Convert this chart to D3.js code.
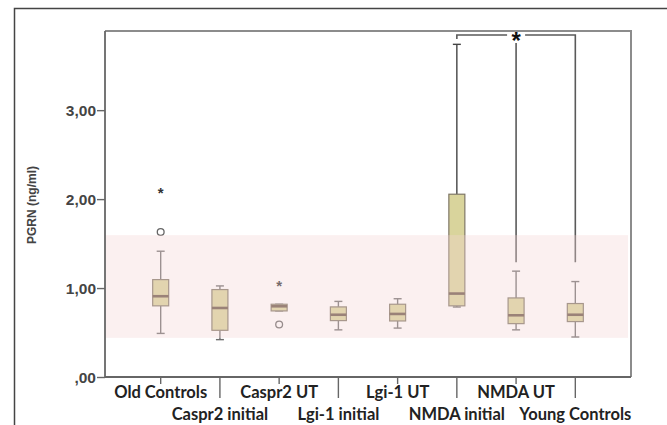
<!DOCTYPE html>
<html>
<head>
<meta charset="utf-8">
<script src="https://cdn.jsdelivr.net/npm/d3@7"></script>
<style>
  body { margin: 0; background: #fff; }
  svg { display: block; }
</style>
</head>
<body>
<div id="chart"></div>
<script>
// groups along the x axis
const groups = ["Old Controls", "Caspr2 initial", "Caspr2 UT", "Lgi-1 initial",
                "Lgi-1 UT", "NMDA initial", "NMDA UT", "Young Controls"];
// box statistics (ng/ml)
const whiskerLow = [0.49, 0.42, 0.743, 0.53, 0.55, 0.787, 0.53, 0.45];
const q1         = [0.80, 0.525, 0.743, 0.634, 0.63, 0.80, 0.60, 0.623];
const medians    = [0.908, 0.776, 0.795, 0.70, 0.709, 0.938, 0.694, 0.70];
const q3         = [1.095, 0.983, 0.818, 0.788, 0.818, 2.055, 0.889, 0.826];
const whiskerHigh= [1.414, 1.024, 0.818, 0.85, 0.88, 3.74, 1.19, 1.073];
// outliers: circles and extremes (stars)
const circleOutliers = [{g: "Old Controls", v: 1.63}, {g: "Caspr2 UT", v: 0.59}];
const starOutliers   = [{g: "Old Controls", v: 2.09}, {g: "Caspr2 UT", v: 1.04}];
// reference range band
const bandRange = [0.44, 1.595];
// significance bracket: from NMDA initial to NMDA UT and Young Controls
const bracketGroups = ["NMDA initial", "NMDA UT", "Young Controls"];
const bracketLevel = 3.845;
const bracketEnd = 1.29;
const yTicks = [0, 1, 2, 3];

const W = 667, H = 425;
const margin = { top: 31, right: 36, bottom: 48, left: 105 };

const svg = d3.select("#chart").append("svg")
  .attr("width", W).attr("height", H);

// outer picture frame
svg.append("path")
  .attr("d", `M14.5,${H} V8.5 H${W}`)
  .attr("fill", "none").attr("stroke", "#444").attr("stroke-width", 1.5);

const x = d3.scalePoint().domain(groups)
  .range([margin.left, W - margin.right]).padding(0.94);
const y = d3.scaleLinear().domain([0, 3.89])
  .range([H - margin.bottom, margin.top]);

const boxW = 16, capW = 8;
const lineCol = "#6e6e6e";

// plot frame (top and right)
svg.append("path")
  .attr("d", `M${margin.left},${y(3.89)} H${W - margin.right} V${y(0)}`)
  .attr("fill", "none").attr("stroke", "#8c8c8c").attr("stroke-width", 2);

const g = svg.append("g");

groups.forEach((name, i) => {
  const cx = x(name);
  // whiskers
  g.append("line").attr("x1", cx).attr("x2", cx)
    .attr("y1", y(q3[i])).attr("y2", y(whiskerHigh[i]))
    .attr("stroke", i === 5 ? "#444" : lineCol).attr("stroke-width", 1.4);
  g.append("line").attr("x1", cx).attr("x2", cx)
    .attr("y1", y(q1[i])).attr("y2", y(whiskerLow[i]))
    .attr("stroke", lineCol).attr("stroke-width", 1.4);
  [whiskerLow[i], whiskerHigh[i]].forEach(v => {
    g.append("line").attr("x1", cx - capW / 2).attr("x2", cx + capW / 2)
      .attr("y1", y(v)).attr("y2", y(v))
      .attr("stroke", i === 5 && v === whiskerHigh[i] ? "#444" : lineCol)
      .attr("stroke-width", 1.4);
  });
  // box
  g.append("rect")
    .attr("x", cx - boxW / 2).attr("width", boxW)
    .attr("y", y(q3[i])).attr("height", Math.max(1, y(q1[i]) - y(q3[i])))
    .attr("fill", "#d9d49c").attr("stroke", "#7f7766").attr("stroke-width", 1.2);
  // median
  g.append("line").attr("x1", cx - boxW / 2).attr("x2", cx + boxW / 2)
    .attr("y1", y(medians[i])).attr("y2", y(medians[i]))
    .attr("stroke", "#6b5648").attr("stroke-width", 2.6);
});

// outliers
g.selectAll("circle.out").data(circleOutliers).enter().append("circle")
  .attr("cx", d => x(d.g)).attr("cy", d => y(d.v)).attr("r", 3.4)
  .attr("fill", "#fff").attr("stroke", "#666").attr("stroke-width", 1.3);
g.selectAll("text.star").data(starOutliers).enter().append("text")
  .attr("x", d => x(d.g)).attr("y", d => y(d.v) + 7)
  .attr("text-anchor", "middle")
  .style("font", "bold 15px 'Liberation Sans', Arial, sans-serif")
  .attr("fill", "#333").text("*");

// significance bracket
const bx = bracketGroups.map(x);
const by = y(bracketLevel), bEnd = y(bracketEnd);
const bracketCol = "#5a5a5a";
g.append("path")
  .attr("d", `M${bx[0]},${by + 4} V${by} H${bx[1] - 9} M${bx[1] + 9},${by} H${bx[2]} V${bEnd}`)
  .attr("fill", "none").attr("stroke", bracketCol).attr("stroke-width", 1.6);
g.append("line").attr("x1", bx[1]).attr("x2", bx[1])
  .attr("y1", by + 8).attr("y2", bEnd)
  .attr("stroke", bracketCol).attr("stroke-width", 1.6);
g.append("text").attr("x", bx[1]).attr("y", by + 14)
  .attr("text-anchor", "middle")
  .style("font", "bold 24px 'Liberation Sans', Arial, sans-serif")
  .attr("fill", "#111").text("*");

// reference band drawn on top as a translucent overlay
svg.append("rect")
  .attr("x", margin.left + 1).attr("width", W - margin.right - margin.left - 4)
  .attr("y", y(bandRange[1])).attr("height", y(bandRange[0]) - y(bandRange[1]))
  .attr("fill", "#f3d3d3").attr("opacity", 0.35);

// y axis
const yAxis = svg.append("g")
  .attr("transform", `translate(${margin.left},0)`)
  .call(d3.axisLeft(y).tickValues(yTicks).tickSize(8).tickSizeOuter(0)
    .tickFormat(d => d === 0 ? ",00" : d3.format(".2f")(d).replace(".", ",")));
yAxis.select(".domain").attr("stroke", "#666").attr("stroke-width", 1.8)
  .attr("d", `M0,${y(0)}V${y(3.89)}`);
yAxis.selectAll(".tick line").attr("stroke", "#666").attr("stroke-width", 1.4);
yAxis.selectAll(".tick text")
  .style("font", "bold 15.5px 'Liberation Sans', Arial, sans-serif")
  .attr("fill", "#444").attr("x", -9).attr("dy", "0.36em");

svg.append("text")
  .attr("transform", `translate(36,205) rotate(-90)`)
  .attr("text-anchor", "middle")
  .style("font", "bold 12px 'Liberation Sans', Arial, sans-serif")
  .attr("fill", "#444").text("PGRN (ng/ml)");

// x axis
svg.append("line")
  .attr("x1", margin.left).attr("x2", W - margin.right)
  .attr("y1", y(0)).attr("y2", y(0))
  .attr("stroke", "#666").attr("stroke-width", 1.8);
groups.forEach((name, i) => {
  const cx = x(name);
  const low = i % 2 === 1;
  svg.append("line").attr("x1", cx).attr("x2", cx)
    .attr("y1", y(0)).attr("y2", y(0) + (low ? 21 : 7))
    .attr("stroke", "#666").attr("stroke-width", 1.4);
  svg.append("text")
    .attr("x", cx).attr("y", low ? 420 : 398)
    .attr("text-anchor", "middle")
    .style("font", "bold 16.5px Lato, 'Open Sans', sans-serif")
    .attr("fill", "#222").text(name);
});
</script>
</body>
</html>
